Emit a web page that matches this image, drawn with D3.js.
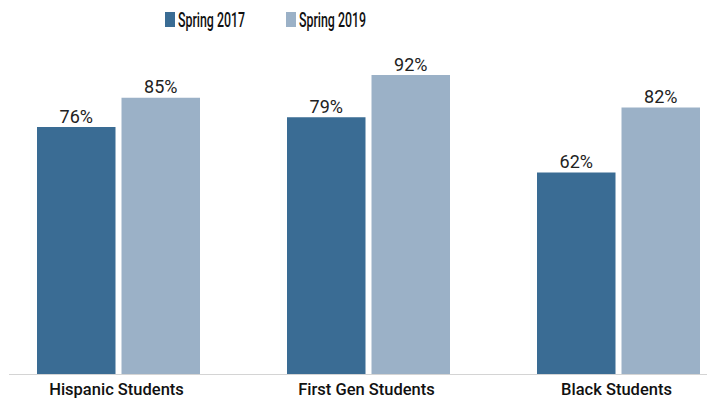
<!DOCTYPE html>
<html>
<head>
<meta charset="utf-8">
<script src="https://cdn.jsdelivr.net/npm/d3@7"></script>
<style>
  html, body { margin: 0; padding: 0; background: #fff; }
  svg { display: block; }
  text { font-family: Roboto, "Noto Sans", sans-serif; }
</style>
</head>
<body>
<svg id="chart" width="707" height="400"></svg>
<script>
const categories = ["Hispanic Students", "First Gen Students", "Black Students"];
const seriesNames = ["Spring 2017", "Spring 2019"];
const spring2017 = [76, 79, 62];
const spring2019 = [85, 92, 82];
const colors = ["#3a6c94", "#9bb1c7"];

const svg = d3.select("#chart");
const baseline = 374;

const x0 = d3.scaleBand().domain(categories).range([37, 700]).paddingInner(0.348).paddingOuter(0);
const x1 = d3.scaleBand().domain(seriesNames).range([0, x0.bandwidth()]).paddingInner(0.071).paddingOuter(0);
const y = d3.scaleLinear().domain([0, 100]).range([baseline, baseline - 325]);

const data = categories.map((c, i) => ({
  category: c,
  values: [
    { series: seriesNames[0], value: spring2017[i] },
    { series: seriesNames[1], value: spring2019[i] }
  ]
}));

// baseline axis line
svg.append("line")
  .attr("x1", 9).attr("x2", 707)
  .attr("y1", baseline + 0.5).attr("y2", baseline + 0.5)
  .attr("stroke", "#d4d4d4").attr("stroke-width", 1.2);

const groups = svg.selectAll("g.grp").data(data).enter().append("g")
  .attr("class", "grp")
  .attr("transform", d => `translate(${x0(d.category)},0)`);

groups.selectAll("rect").data(d => d.values).enter().append("rect")
  .attr("x", d => x1(d.series))
  .attr("width", x1.bandwidth())
  .attr("y", d => y(d.value))
  .attr("height", d => y(0) - y(d.value))
  .attr("fill", (d, i) => colors[i]);

groups.selectAll("text.val").data(d => d.values).enter().append("text")
  .attr("class", "val")
  .attr("x", d => x1(d.series) + x1.bandwidth() / 2)
  .attr("y", d => y(d.value) - 4.5)
  .attr("text-anchor", "middle")
  .attr("font-size", 18)
  .attr("fill", "#222")
  .text(d => d.value + "%");

// category labels
const xAxis = d3.axisBottom(x0).tickSize(0).tickPadding(0);
const ax = svg.append("g").attr("transform", `translate(-2,${baseline})`).call(xAxis);
ax.select(".domain").remove();
ax.selectAll("text")
  .attr("y", 21)
  .attr("dy", 0)
  .attr("font-size", 16.5)
  .attr("font-weight", 500)
  .attr("font-family", "Roboto, sans-serif")
  .attr("fill", "#111");

// legend
const legendX = [165, 286];
const leg = svg.selectAll("g.leg").data(seriesNames).enter().append("g")
  .attr("class", "leg")
  .attr("transform", (d, i) => `translate(${legendX[i]},12)`);
leg.append("rect")
  .attr("width", 10).attr("height", 15)
  .attr("fill", (d, i) => colors[i]);
leg.append("text")
  .attr("x", 13).attr("y", 15)
  .attr("font-size", 20)
  .attr("font-weight", 500)
  .attr("fill", "#111")
  .attr("textLength", 67)
  .attr("lengthAdjust", "spacingAndGlyphs")
  .text(d => d);
</script>
</body>
</html>
